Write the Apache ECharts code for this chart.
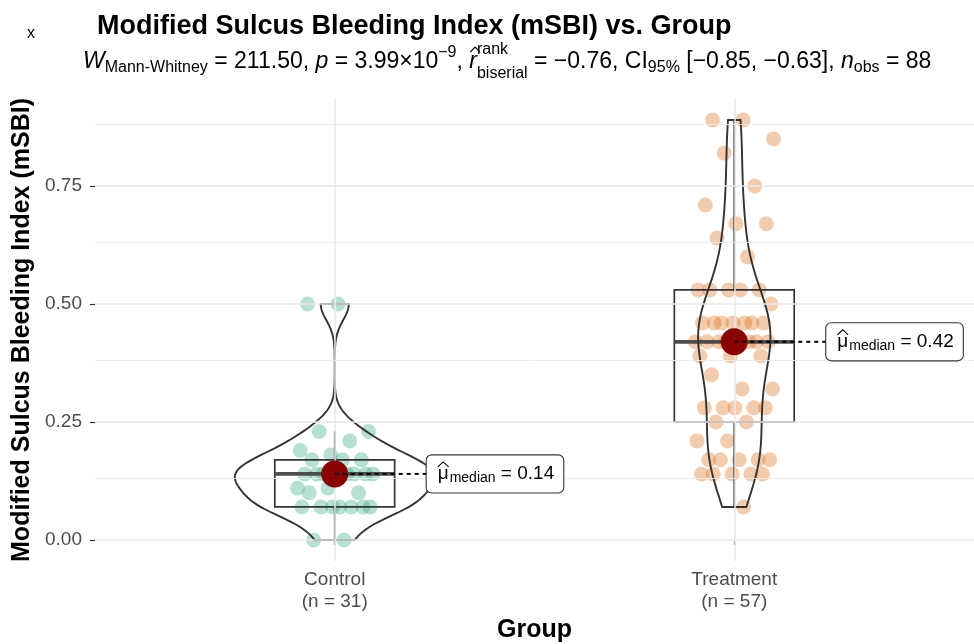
<!DOCTYPE html>
<html>
<head>
<meta charset="utf-8">
<title>mSBI vs. Group</title>
<script src="https://cdn.jsdelivr.net/npm/echarts@6.0.0/dist/echarts.min.js"></script>
<style>
  html, body { margin: 0; padding: 0; background: #fff; }
  #main { width: 974px; height: 644px; }
</style>
</head>
<body>
<div id="main"></div>
<script>
var groups = ['Control', 'Treatment'];
var controlValues = [0.00, 0.00, 0.07, 0.07, 0.07, 0.07, 0.07, 0.07, 0.07, 0.10, 0.10, 0.11, 0.11,
    0.14, 0.14, 0.14, 0.14, 0.14, 0.14, 0.14, 0.14, 0.17, 0.17, 0.17, 0.18, 0.19, 0.21,
    0.23, 0.23, 0.50, 0.50];
var treatmentValues = [0.07, 0.14, 0.14, 0.14, 0.14, 0.14, 0.17, 0.17, 0.17, 0.17, 0.17,
    0.21, 0.21, 0.25, 0.25, 0.28, 0.28, 0.28, 0.28, 0.28, 0.32, 0.32, 0.35, 0.39, 0.39, 0.39,
    0.42, 0.42, 0.42, 0.42, 0.42, 0.42, 0.42, 0.42, 0.46, 0.46, 0.46, 0.46, 0.46, 0.46, 0.46,
    0.50, 0.53, 0.53, 0.53, 0.53, 0.53, 0.60, 0.64, 0.67, 0.67, 0.71, 0.75, 0.82, 0.85, 0.89, 0.89];
var yTicks = [0, 0.25, 0.50, 0.75];
var yMinorTicks = [0.125, 0.375, 0.625, 0.875];

// test results shown in the subtitle
var wStat = '211.50';
var pMantissa = '3.99';
var pExponent = '\u22129';
var rStat = '\u22120.76';
var ciLow = '\u22120.85';
var ciHigh = '\u22120.63';

var FONT = 'Liberation Sans';
var pointColors = ['rgba(27,158,119,0.4)', 'rgba(217,95,2,0.4)'];

var ctx = document.createElement('canvas').getContext('2d');
function textWidth(str, font) {
    ctx.font = font;
    return ctx.measureText(str).width;
}

function quantile(sorted, p) {
    var h = (sorted.length - 1) * p;
    var lo = Math.floor(h);
    var hi = Math.min(lo + 1, sorted.length - 1);
    return sorted[lo] + (h - lo) * (sorted[hi] - sorted[lo]);
}

// bandwidth like R's bw.nrd0
function bwNrd0(sorted) {
    var n = sorted.length;
    var mean = sorted.reduce(function (a, b) { return a + b; }, 0) / n;
    var sd = Math.sqrt(sorted.reduce(function (a, b) { return a + (b - mean) * (b - mean); }, 0) / (n - 1));
    var iqr = quantile(sorted, 0.75) - quantile(sorted, 0.25);
    return 0.9 * Math.min(sd, iqr / 1.34) * Math.pow(n, -0.2);
}

function groupStats(values, x) {
    var s = values.slice().sort(function (a, b) { return a - b; });
    var q1 = quantile(s, 0.25), q3 = quantile(s, 0.75), iqr = q3 - q1;
    var inside = s.filter(function (v) { return v >= q1 - 1.5 * iqr && v <= q3 + 1.5 * iqr; });
    var bw = bwNrd0(s);
    var dens = [];
    var steps = 160;
    for (var k = 0; k <= steps; k++) {
        var y = s[0] + (s[s.length - 1] - s[0]) * k / steps;
        var d = 0;
        s.forEach(function (v) { var z = (y - v) / bw; d += Math.exp(-0.5 * z * z); });
        dens.push([y, d / (s.length * bw * Math.sqrt(2 * Math.PI))]);
    }
    return {
        x: x, n: s.length, q1: q1, q3: q3, median: quantile(s, 0.5),
        lo: inside[0], hi: inside[inside.length - 1], dens: dens
    };
}

var stats = [groupStats(controlValues, 1), groupStats(treatmentValues, 2)];
var maxDens = 0;
stats.forEach(function (st) { st.dens.forEach(function (d) { maxDens = Math.max(maxDens, d[1]); }); });

var allValues = controlValues.concat(treatmentValues);
var yLo = Math.min.apply(null, allValues), yHi = Math.max.apply(null, allValues);
var yMin = yLo - 0.05 * (yHi - yLo);
var yMax = yHi + 0.05 * (yHi - yLo);

function jitter(i) {
    return (((i + 1) * 0.6180339887) % 1 - 0.5) * 0.2;
}

function jitterData(values, x) {
    return values.map(function (v, i) { return [x + jitter(i), v]; });
}

// subtitle: plotmath-like layout done by hand with measured widths
function subtitleElements(x0, yc) {
    var big = 23, small = 16;
    var parts = [
        { t: 'W', it: true }, { t: 'Mann-Whitney', pos: 'sub' },
        { t: ' = ' + wStat + ', ' }, { t: 'p', it: true },
        { t: ' = ' + pMantissa + '\u00d710' }, { t: pExponent, pos: 'sup' },
        { t: ', ' }, { t: 'r', it: true, hat: true }, { stack: ['rank', 'biserial'] },
        { t: ' = ' + rStat + ', CI' }, { t: '95%', pos: 'sub' },
        { t: ' [' + ciLow + ', ' + ciHigh + '], ' }, { t: 'n', it: true }, { t: 'obs', pos: 'sub' },
        { t: ' = ' + (controlValues.length + treatmentValues.length) }
    ];
    var els = [];
    var x = x0;
    function put(str, size, italic, dy) {
        var font = (italic ? 'italic ' : '') + size + 'px "' + FONT + '"';
        els.push({
            type: 'text', x: x, y: yc + dy,
            style: { text: str, font: font, fill: '#000', align: 'left', verticalAlign: 'middle' }
        });
        return textWidth(str, font);
    }
    parts.forEach(function (p) {
        if (p.stack) {
            var w1 = put(p.stack[0], small, false, -12);
            var w2 = put(p.stack[1], small, false, 12);
            x += Math.max(w1, w2);
            return;
        }
        var size = p.pos ? small : big;
        var dy = p.pos === 'sub' ? 6 : (p.pos === 'sup' ? -9 : 0);
        var w = put(p.t, size, p.it, dy);
        if (p.hat) {
            els.push({
                type: 'polyline',
                shape: { points: [[x + 1, yc - 10], [x + 1 + w / 2 + 1, yc - 15], [x + w + 3, yc - 10]] },
                style: { stroke: '#000', fill: 'none', lineWidth: 1.1 }
            });
        }
        x += w;
    });
    return els;
}

var chart = echarts.init(document.getElementById('main'));

var option = {
    animation: false,
    textStyle: { fontFamily: FONT },
    title: {
        text: 'Modified Sulcus Bleeding Index (mSBI) vs. Group',
        left: 92, top: 8,
        textStyle: { fontSize: 27, fontWeight: 'bold', color: '#000', fontFamily: FONT }
    },
    graphic: [
        { type: 'text', x: 27, y: 34, style: { text: 'x', font: '16px "' + FONT + '"', fill: '#000', align: 'left', verticalAlign: 'middle' } }
    ].concat(subtitleElements(83, 62)),
    grid: { left: 95, right: 0, top: 99, bottom: 83, outerBoundsMode: 'none' },
    xAxis: {
        type: 'value', min: 0.4, max: 2.6,
        axisLine: { show: false },
        splitLine: { show: false },
        axisTick: { show: true, customValues: [1, 2], length: 5, lineStyle: { color: '#333', width: 1.2 } },
        axisLabel: {
            customValues: [1, 2],
            formatter: function (v) {
                var i = Math.round(v) - 1;
                return groups[i] + '\n(n = ' + stats[i].n + ')';
            },
            fontSize: 19, lineHeight: 22, color: '#4d4d4d', margin: 8
        },
        name: 'Group', nameLocation: 'middle', nameGap: 52,
        nameTextStyle: { fontSize: 25, fontWeight: 'bold', color: '#000' }
    },
    yAxis: {
        type: 'value', min: yMin, max: yMax,
        axisLine: { show: false },
        splitLine: { show: false },
        axisTick: { show: true, customValues: yTicks, length: 5, lineStyle: { color: '#333', width: 1.2 } },
        axisLabel: {
            customValues: yTicks,
            formatter: function (v) { return v.toFixed(2); },
            fontSize: 19, color: '#4d4d4d', margin: 13
        },
        name: 'Modified Sulcus Bleeding Index (mSBI)', nameLocation: 'middle', nameGap: 56,
        nameTextStyle: { fontSize: 25, fontWeight: 'bold', color: '#000' }
    },
    series: [
        {
            // panel grid lines
            type: 'line', data: [], z: 0, silent: true,
            markLine: {
                silent: true, symbol: ['none', 'none'], label: { show: false }, animation: false,
                data: yTicks.map(function (v) {
                    return { yAxis: v, lineStyle: { color: '#e8e8e8', width: 1.5, type: 'solid' } };
                }).concat(yMinorTicks.map(function (v) {
                    return { yAxis: v, lineStyle: { color: '#ebebeb', width: 0.9, type: 'solid' } };
                })).concat([1, 2].map(function (v) {
                    return { xAxis: v, lineStyle: { color: '#e8e8e8', width: 1.5, type: 'solid' } };
                }))
            }
        },
        {
            name: groups[0], type: 'scatter', z: 2, silent: true,
            symbolSize: 15, itemStyle: { color: pointColors[0] },
            data: jitterData(controlValues, 1)
        },
        {
            name: groups[1], type: 'scatter', z: 2, silent: true,
            symbolSize: 15, itemStyle: { color: pointColors[1] },
            data: jitterData(treatmentValues, 2)
        },
        {
            // box plots
            type: 'custom', z: 3, silent: true,
            data: stats.map(function (st) { return [st.x, st.median]; }),
            renderItem: function (params, api) {
                var st = stats[params.dataIndex];
                var half = 0.15;
                var lt = api.coord([st.x - half, st.q3]);
                var rb = api.coord([st.x + half, st.q1]);
                var ml = api.coord([st.x - half, st.median]);
                var mr = api.coord([st.x + half, st.median]);
                var top = api.coord([st.x, st.hi]);
                var bot = api.coord([st.x, st.lo]);
                var line = { stroke: '#333', lineWidth: 1.7 };
                return {
                    type: 'group',
                    children: [
                        { type: 'line', shape: { x1: top[0], y1: top[1], x2: top[0], y2: lt[1] }, style: line },
                        { type: 'line', shape: { x1: bot[0], y1: bot[1], x2: bot[0], y2: rb[1] }, style: line },
                        { type: 'rect', shape: { x: lt[0], y: lt[1], width: rb[0] - lt[0], height: rb[1] - lt[1] },
                          style: { fill: 'none', stroke: '#333', lineWidth: 1.7 } },
                        { type: 'line', shape: { x1: ml[0], y1: ml[1], x2: mr[0], y2: mr[1] },
                          style: { stroke: '#4d4d4d', lineWidth: 3.8 } }
                    ]
                };
            }
        },
        {
            // violins, scaled by area (common max density = half width 0.25)
            type: 'custom', z: 4, silent: true,
            data: stats.map(function (st) { return [st.x, st.median]; }),
            renderItem: function (params, api) {
                var st = stats[params.dataIndex];
                var right = [], left = [];
                st.dens.forEach(function (d) {
                    var hw = d[1] / maxDens * 0.25;
                    right.push(api.coord([st.x + hw, d[0]]));
                    left.push(api.coord([st.x - hw, d[0]]));
                });
                return {
                    type: 'polygon',
                    shape: { points: right.concat(left.reverse()) },
                    style: { fill: 'none', stroke: '#333', lineWidth: 1.9 }
                };
            }
        },
        {
            name: 'median', type: 'scatter', z: 5, silent: true,
            symbolSize: 27, itemStyle: { color: '#8b0000', opacity: 1 },
            data: stats.map(function (st) { return [st.x, st.median]; })
        },
        {
            // median labels
            type: 'custom', z: 6, silent: true,
            data: stats.map(function (st) { return [st.x, st.median]; }),
            renderItem: function (params, api) {
                var st = stats[params.dataIndex];
                var p = api.coord([st.x, st.median]);
                var left = p[0] + 92;
                var padL = 11;
                var muW = textWidth('\u03bc', '19px "' + FONT + '"');
                var mx = left + padL;
                return {
                    type: 'group',
                    children: [
                        { type: 'line', shape: { x1: p[0], y1: p[1], x2: left, y2: p[1] },
                          style: { stroke: '#000', lineWidth: 2, lineDash: [4, 4] } },
                        {
                            type: 'text', x: left, y: p[1],
                            style: {
                                text: '{mu|\u03bc}{sub|median}{eq| = ' + st.median.toFixed(2) + '}',
                                align: 'left', verticalAlign: 'middle',
                                backgroundColor: '#fff', borderColor: '#333', borderWidth: 1.1, borderRadius: 5,
                                padding: [7, 9, 7, padL],
                                rich: {
                                    mu: { fontSize: 19, fontFamily: FONT, color: '#000' },
                                    sub: { fontSize: 14, fontFamily: FONT, color: '#000', padding: [9, 0, 0, 1] },
                                    eq: { fontSize: 19, fontFamily: FONT, color: '#000' }
                                }
                            }
                        },
                        { type: 'polyline',
                          shape: { points: [[mx, p[1] - 7], [mx + muW / 2, p[1] - 12], [mx + muW, p[1] - 7]] },
                          style: { stroke: '#000', fill: 'none', lineWidth: 1.1 } }
                    ]
                };
            }
        }
    ]
};

chart.setOption(option);
</script>
</body>
</html>
